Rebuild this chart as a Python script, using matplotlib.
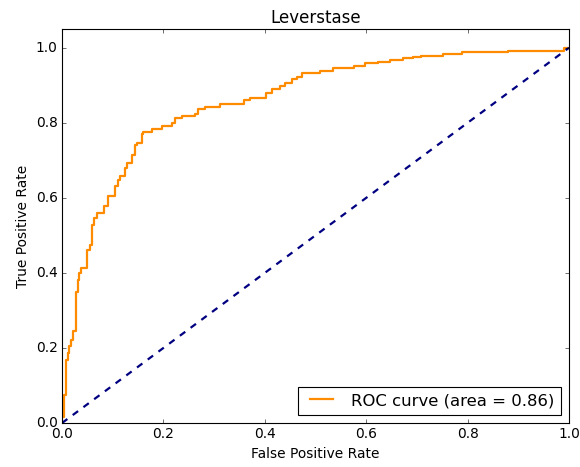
import matplotlib
matplotlib.use("Agg")
import matplotlib.pyplot as plt

# ROC points (step corners)
fpr = [0.0, 0.003, 0.008, 0.011, 0.014, 0.017, 0.021, 0.028, 0.031, 0.034,
       0.038, 0.050, 0.055, 0.059, 0.064, 0.070, 0.083, 0.091, 0.105, 0.111,
       0.114, 0.124, 0.128, 0.139, 0.144, 0.148, 0.157, 0.160, 0.177, 0.198,
       0.216, 0.223, 0.236, 0.256, 0.262, 0.269, 0.282, 0.312, 0.358, 0.371,
       0.402, 0.414, 0.430, 0.440, 0.453, 0.463, 0.473, 0.509, 0.535, 0.575,
       0.598, 0.623, 0.647, 0.673, 0.692, 0.709, 0.751, 0.788, 0.880, 0.990,
       1.0]
tpr = [0.015, 0.075, 0.168, 0.187, 0.205, 0.220, 0.245, 0.350, 0.380, 0.400,
       0.412, 0.460, 0.475, 0.528, 0.546, 0.559, 0.577, 0.606, 0.632, 0.648,
       0.657, 0.679, 0.692, 0.715, 0.741, 0.746, 0.770, 0.775, 0.783, 0.792,
       0.799, 0.812, 0.819, 0.819, 0.823, 0.837, 0.842, 0.851, 0.861, 0.866,
       0.879, 0.889, 0.897, 0.906, 0.916, 0.923, 0.932, 0.937, 0.946, 0.951,
       0.959, 0.961, 0.967, 0.972, 0.976, 0.979, 0.983, 0.988, 0.992, 1.0,
       1.0]
roc_auc = 0.86
title = "Leverstase"

plt.style.use("classic")
plt.rcParams["font.size"] = 12.4
fig = plt.figure(figsize=(7.25, 5.8375), dpi=80, facecolor="white")
ax = fig.add_axes([0.1069, 0.0942, 0.8741, 0.8437])

ax.plot([0] + fpr, [0] + tpr, color="darkorange", lw=2, drawstyle="steps-post",
        label="ROC curve (area = %0.2f)" % roc_auc)
ax.plot([0, 1], [0, 1], color="navy", lw=2, linestyle="--")

ax.set_xlim([0.0, 1.0])
ax.set_ylim([0.0, 1.05])
ax.set_xlabel("False Positive Rate")
ax.set_ylabel("True Positive Rate")
ax.set_title(title, fontsize=15)
ax.legend(loc="lower right", fontsize=14.8)

fig.savefig("out.png", dpi=80, facecolor="white")
